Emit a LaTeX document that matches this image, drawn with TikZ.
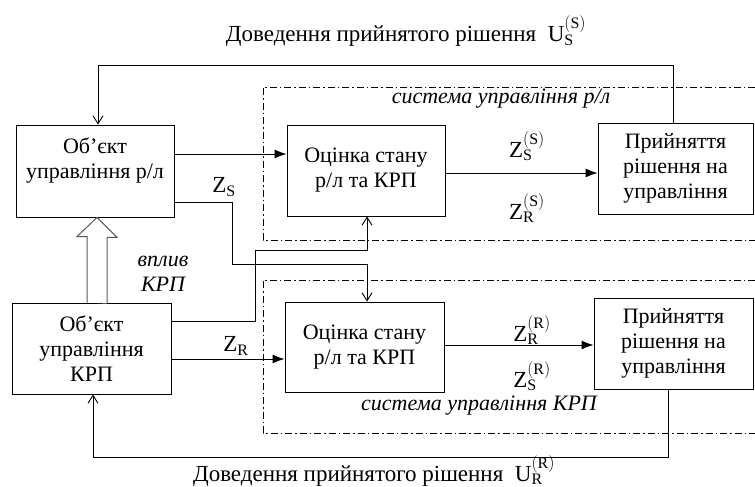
\documentclass[tikz,border=0pt]{standalone}
\usepackage{fontspec}
\setmainfont{Liberation Serif}
\usetikzlibrary{arrows.meta}
\DeclareMathSizes{22}{22}{15.5}{11}
\DeclareMathSizes{23}{23}{16}{12}
\tikzset{
  blk/.style={draw,line width=0.9pt,minimum width=158pt,minimum height=91pt,align=center,inner sep=0pt},
  sysframe/.style={line width=0.9pt,dash pattern=on 7pt off 3pt on 1.5pt off 3pt},
  fwd/.style={line width=0.9pt,-{Latex[length=12pt,width=9pt]}},
  bck/.style={line width=0.9pt,-{Straight Barb[length=8pt,width=10pt]}},
  hollow/.style={line width=1pt,draw=black!65,fill=white},
  big/.style={font=\fontsize{23}{25}\selectfont},
}
\newcommand{\zz}[3]{$\mathrm{#1}_{\mathrm{#2}}^{\mathrm{(#3)}}$}
\begin{document}
\begin{tikzpicture}[x=1pt,y=-1pt,every node/.style={font=\fontsize{22}{25}\selectfont}]
\useasboundingbox (0,0) rectangle (755,487);

% the two control systems
\draw[sysframe] (755,87) -- (263,87) -- (263,240) -- (755,240);
\draw[sysframe] (755,280) -- (263,280) -- (263,433) -- (755,433);
\node (sys1) at (501,99) {\itshape система управління р/л};
\node (sys2) at (479,406) {\itshape система управління КРП};

% blocks
\node[blk,minimum height=92pt] (obj1) at (95,171) {\parbox[t][82pt][t]{154pt}{\centering\rule{0pt}{23pt}Об’єкт\\управління р/л}};
\node[blk,minimum width=159pt] (obj2) at (91.5,348.5) {Об’єкт\\управління\\КРП};
\node[blk] (est1) at (366,170.5) {Оцінка стану\\р/л та КРП};
\node[blk,minimum width=159pt,minimum height=90pt] (est2) at (364.5,347) {Оцінка стану\\р/л та КРП};
\node[blk,minimum width=155pt] (dec1) at (675.5,168.5) {Прийняття\\рішення на\\управління};
\node[blk,minimum width=159pt] (dec2) at (673.5,343.5) {Прийняття\\рішення на\\управління};

% feedback
\coordinate (t1) at (673,65);
\coordinate (t2) at (98,65);
\coordinate (b1) at (668,457);
\coordinate (b2) at (93,457);
\draw[bck] (dec1.north -| t1) -- (t1) -- (t2) -- (obj1.north -| t2);
\draw[bck] (dec2.south -| b1) -- (b1) -- (b2) -- (obj2.south -| b2);
\node[big] (top) at (406,31) {Доведення прийнятого рішення \ \zz{U}{S}{S}};
\node[big,inner sep=1pt] (bot) at (374,471) {Доведення прийнятого рішення \ \zz{U}{R}{R}};

% signals
\coordinate (cx) at (367,0);
\draw[fwd] (obj1.east |- 0,154) -- (est1.west |- 0,154);
\draw[fwd] (obj2.east |- 0,359) -- (est2.west |- 0,359);
\draw[fwd] (est1.east |- 0,173) -- (dec1.west |- 0,173);
\draw[fwd] (est2.east |- 0,345) -- (dec2.west |- 0,345);
\draw[bck] (obj1.east |- 0,202) -- (232,202) -- (232,264) -- (367,264) -- (cx |- est2.north);
\draw[bck] (obj2.east |- 0,321) -- (255,321) -- (255,250) -- (367,250) -- (cx |- est1.south);
\node[big] (zs) at (224,187) {$\mathrm{Z}_{\mathrm{S}}$};
\node[big] (zr) at (236,346) {$\mathrm{Z}_{\mathrm{R}}$};
\node[big] (zss) at (527,146) {\zz{Z}{S}{S}};
\node[big] (zrs) at (527,208) {\zz{Z}{R}{S}};
\node[big] (zrr) at (532,330) {\zz{Z}{R}{R}};
\node[big] (zsr) at (532,376) {\zz{Z}{S}{R}};

% influence of KRP
\coordinate (h) at (97,0);
\draw[hollow] (h |- obj2.north) ++(-10,0) -- ++(0,-66) -- ++(-10,0) -- (h |- obj1.south) -- ++(20,20) -- ++(-10,0) -- ++(0,66);
\node (vpl) at (163,274) {\itshape\begin{tabular}{@{}c@{}}вплив\\КРП\end{tabular}};
\end{tikzpicture}
\end{document}
